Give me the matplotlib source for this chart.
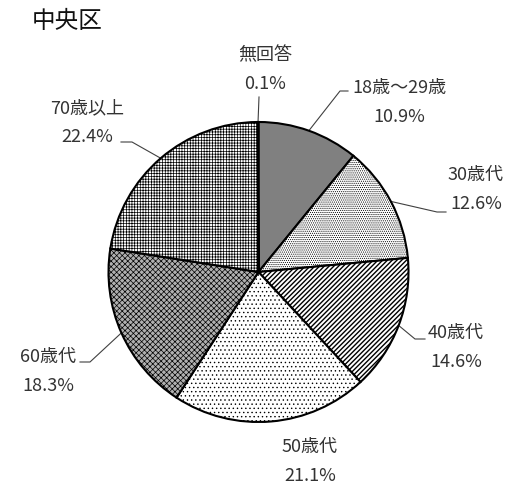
import math

import matplotlib
matplotlib.use("Agg")
import matplotlib.pyplot as plt

plt.rcParams["font.family"] = ["Noto Sans CJK JP", "DejaVu Sans"]
plt.rcParams["hatch.linewidth"] = 0.5

# data (clockwise from 12 o'clock)
labels = ["18歳～29歳", "30歳代", "40歳代", "50歳代", "60歳代", "70歳以上", "無回答"]
values = [10.9, 12.6, 14.6, 21.1, 18.3, 22.4, 0.1]

# styles per slice
faces = ["#808080", "white", "white", "white", "#b0b0b0", "white", "black"]
hatches = [None, "........", "///////", "....", "xxxxxx", "++++++", None]
hatch_lw = [0.5, 0.5, 1.0, 0.5, 0.5, 0.5, 0.5]

# label layout in pixel units (x, y from top-left): text centre, elbow, line end
W, H = 523, 490
CX, CY, R = 258.5, 272, 150
layout = {
    "18歳～29歳": dict(text=(399, 88), elbow=(340, 91), end=(348, 91)),
    "30歳代": dict(text=(476, 175), elbow=(437, 212), end=(446, 212)),
    "40歳代": dict(text=(456, 333), elbow=(415, 339), end=(425, 339)),
    "50歳代": dict(text=(310, 447), elbow=None, end=None),
    "60歳代": dict(text=(48, 357), elbow=(90, 362), end=(80, 362)),
    "70歳以上": dict(text=(87, 108), elbow=(132, 142), end=(121, 142)),
    "無回答": dict(text=(265, 55), elbow=(259, 97), end=(259, 97)),
}
LINE_GAP = 29


def fy(py):
    return H - py


fig = plt.figure(figsize=(W / 100, H / 100), dpi=100, facecolor="white")
ax = fig.add_axes([0, 0, 1, 1])

wedges, _ = ax.pie(values, startangle=90, counterclock=False,
                   center=(CX, fy(CY)), radius=R,
                   wedgeprops=dict(edgecolor="black", linewidth=1.5))
for w, fc, h, hl in zip(wedges, faces, hatches, hatch_lw):
    w.set_facecolor(fc)
    if h:
        w.set_hatch(h)
        if hasattr(w, "set_hatch_linewidth"):
            w.set_hatch_linewidth(hl)

txt_color = "#333333"
for w, lab, v in zip(wedges, labels, values):
    lay = layout[lab]
    tx, ty = lay["text"]
    ax.text(tx, fy(ty), lab, ha="center", va="center", fontsize=13, color=txt_color)
    ax.text(tx, fy(ty + LINE_GAP), f"{v:.1f}%", ha="center", va="center",
            fontsize=13, color=txt_color)
    if lay["elbow"] is not None:
        mid = math.radians((w.theta1 + w.theta2) / 2)
        ex, ey = CX + R * math.cos(mid), fy(CY) + R * math.sin(mid)
        bx, by = lay["elbow"]
        nx, ny = lay["end"]
        ax.plot([ex, bx, nx], [ey, fy(by), fy(ny)], color="#404040", lw=0.8, zorder=0)

fig.text(32 / W, 1 - 22 / H, "中央区", ha="left", va="center", fontsize=17,
         color="#111111")

ax.set_xlim(0, W)
ax.set_ylim(0, H)
ax.set_aspect("equal")
ax.axis("off")

fig.savefig("out.png", dpi=100, facecolor="white")
